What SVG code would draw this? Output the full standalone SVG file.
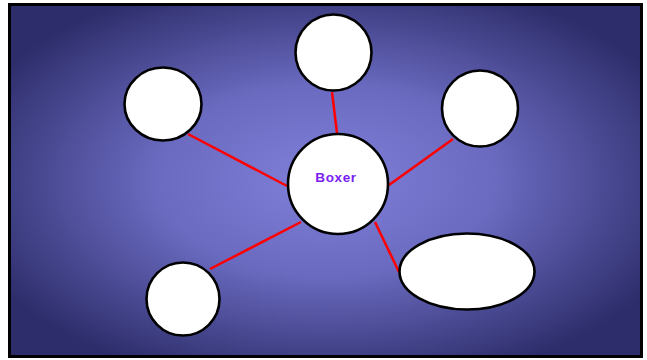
<svg xmlns="http://www.w3.org/2000/svg" width="647" height="360" viewBox="0 0 647 360">
<style>
.node{fill:#fff;stroke:#000;stroke-width:2.6}
.edge{stroke:#f00;stroke-width:2.5;fill:none}
.lbl{font-family:"Liberation Sans",Arial,sans-serif;font-weight:bold;font-size:13.5px;fill:#7a1ef2;letter-spacing:0.6px}
</style>
<defs>
<radialGradient id="bg" cx="50%" cy="50%" r="60%">
<stop offset="0" stop-color="#8080da"/>
<stop offset="0.45" stop-color="#6a6ac0"/>
<stop offset="1" stop-color="#2d2d6b"/>
</radialGradient>
</defs>
<rect x="9.5" y="4.5" width="632" height="352" fill="url(#bg)" stroke="#000" stroke-width="3"/>
<g id="edges">
<line class="edge" x1="337" y1="133" x2="332" y2="92"/>
<line class="edge" x1="287" y1="186" x2="188" y2="134"/>
<line class="edge" x1="389" y1="185" x2="453" y2="139"/>
<line class="edge" x1="301" y1="222" x2="210" y2="269"/>
<line class="edge" x1="375" y1="222" x2="399" y2="272"/>
</g>
<g id="n-top"><circle class="node" cx="333.5" cy="52.5" r="38"/></g>
<g id="n-topleft"><ellipse class="node" cx="163" cy="104" rx="38.5" ry="36.5"/></g>
<g id="n-right"><circle class="node" cx="480" cy="108.5" r="38"/></g>
<g id="n-bottomleft"><circle class="node" cx="183" cy="299" r="36.5"/></g>
<g id="n-ellipse"><ellipse class="node" cx="467" cy="271.5" rx="67.5" ry="38"/></g>
<g id="n-center"><circle class="node" cx="338" cy="184" r="50"/>
<text class="lbl" x="336" y="182" text-anchor="middle">Boxer</text></g>
</svg>
